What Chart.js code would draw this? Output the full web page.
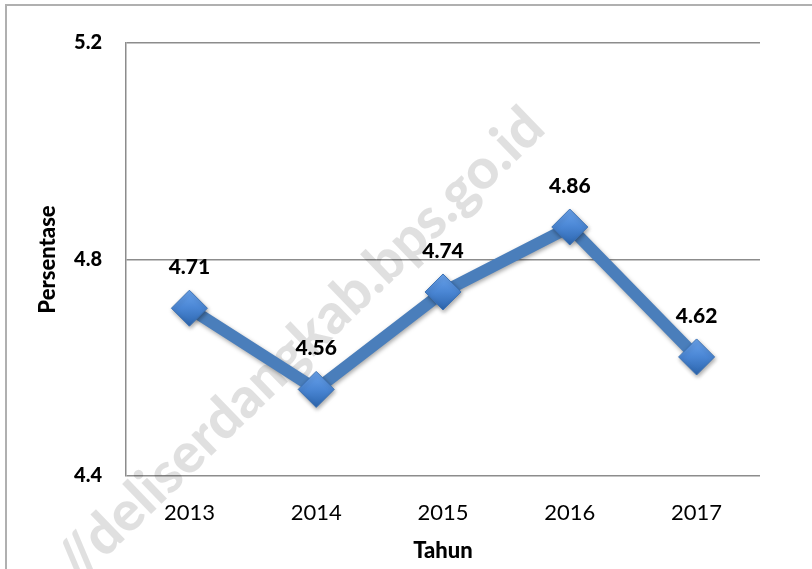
<!DOCTYPE html>
<html>
<head>
<meta charset="utf-8">
<script src="https://cdn.jsdelivr.net/npm/chart.js@4/dist/chart.umd.min.js"></script>
<style>
  html, body { margin: 0; padding: 0; background: #fff; }
  #wrap { position: relative; width: 812px; height: 569px; overflow: hidden; }
  #frame { position: absolute; left: 5px; top: 4px; width: 900px; height: 700px; border: 2px solid #b0b0b0; box-sizing: border-box; }
  canvas { position: absolute; left: 0; top: 0; }
</style>
</head>
<body>
<div id="wrap">
  <div id="frame"></div>
  <canvas id="c" width="812" height="569"></canvas>
</div>
<script>
const categories = ['2013', '2014', '2015', '2016', '2017'];
const values = [4.71, 4.56, 4.74, 4.86, 4.62];
const yTicks = [4.4, 4.8, 5.2];
const xTitle = 'Tahun';
const yTitle = 'Persentase';
const watermark = '//deliserdangkab.bps.go.id';

const FONT = 'Lato, "Open Sans", sans-serif';

const watermarkPlugin = {
  id: 'watermark',
  beforeDatasetsDraw(chart) {
    const ctx = chart.ctx;
    ctx.save();
    ctx.translate(300, 345);
    ctx.rotate(-44 * Math.PI / 180);
    ctx.font = '900 56px ' + FONT;
    ctx.fillStyle = 'rgba(0,0,0,0.12)';
    ctx.textAlign = 'center';
    ctx.textBaseline = 'middle';
    ctx.fillText(watermark, 0, 0);
    ctx.restore();
  }
};

const labelPlugin = {
  id: 'pointLabels',
  afterDatasetsDraw(chart) {
    const ctx = chart.ctx;
    const meta = chart.getDatasetMeta(0);
    ctx.save();
    ctx.font = '900 21px ' + FONT;
    ctx.fillStyle = '#000';
    ctx.textAlign = 'center';
    ctx.textBaseline = 'middle';
    meta.data.forEach((pt, i) => {
      ctx.fillText(values[i].toFixed(2), pt.x, pt.y - 41);
    });
    ctx.restore();
  }
};

const shadowPlugin = {
  id: 'shadow',
  beforeDatasetDraw(chart) {
    const ctx = chart.ctx;
    ctx.save();
    ctx.shadowColor = 'rgba(0,0,0,0.35)';
    ctx.shadowBlur = 4;
    ctx.shadowOffsetX = 1;
    ctx.shadowOffsetY = 2;
  },
  afterDatasetDraw(chart) {
    chart.ctx.restore();
  }
};

function markerFill(context) {
  const chart = context.chart;
  const el = context.element;
  if (!el || el.y === undefined) return '#4F81BD';
  const g = chart.ctx.createLinearGradient(el.x, el.y - 18, el.x, el.y + 18);
  g.addColorStop(0, '#6aa3ec');
  g.addColorStop(0.5, '#4a86d4');
  g.addColorStop(1, '#2c65ad');
  return g;
}

new Chart(document.getElementById('c'), {
  type: 'line',
  data: {
    labels: categories,
    datasets: [{
      data: values,
      borderColor: '#4a7ebb',
      borderWidth: 12,
      tension: 0,
      pointStyle: 'rectRot',
      pointRadius: 18,
      pointHoverRadius: 18,
      pointBackgroundColor: markerFill,
      pointBorderColor: '#3d72b4',
      pointBorderWidth: 1
    }]
  },
  options: {
    responsive: false,
    animation: false,
    devicePixelRatio: 1,
    layout: { padding: { top: 43, right: 52, left: 0, bottom: 0 } },
    plugins: { legend: { display: false }, tooltip: { enabled: false } },
    scales: {
      x: {
        offset: true,
        grid: { display: false, drawTicks: false },
        border: { display: false },
        ticks: { color: '#000', font: { family: FONT, size: 22 }, padding: 24, maxRotation: 0 },
        title: { display: true, text: xTitle, color: '#000', font: { family: FONT, size: 22, weight: 900 }, padding: { top: 0, bottom: 5 } },
        afterFit(s) { s.height = 93; }
      },
      y: {
        min: 4.4, max: 5.2,
        afterBuildTicks(s) { s.ticks = yTicks.map(v => ({ value: v })); },
        grid: { color: '#8c8c8c', lineWidth: 1.5, drawTicks: false },
        border: { display: true, color: '#8c8c8c', width: 1.5 },
        ticks: { color: '#000', font: { family: FONT, size: 20, weight: 900 }, padding: 24,
                 callback: v => v.toFixed(1) },
        title: { display: true, text: yTitle, color: '#000', font: { family: FONT, size: 22, weight: 900 }, padding: { top: 35, bottom: 0 } },
        afterFit(s) { s.width = 126; }
      }
    }
  },
  plugins: [watermarkPlugin, shadowPlugin, labelPlugin]
});
</script>
</body>
</html>
